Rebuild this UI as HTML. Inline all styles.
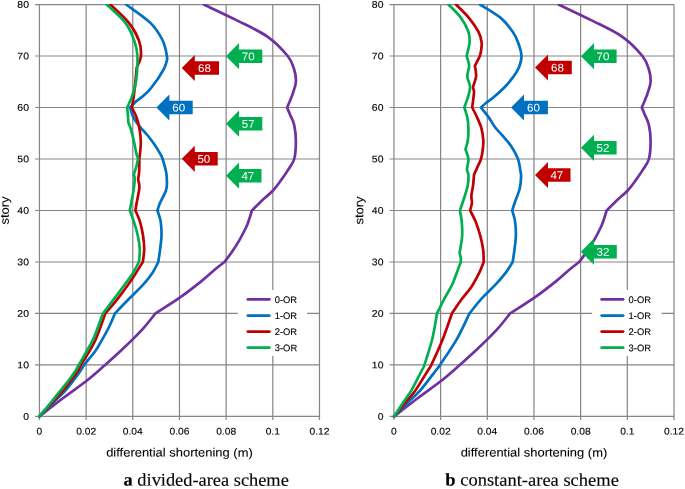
<!DOCTYPE html>
<html lang="en"><head><meta charset="utf-8"><title>Differential shortening</title>
<style>html,body{margin:0;padding:0;background:#fff}svg{display:block;will-change:transform}text{stroke:#000;stroke-width:.12px}text.w{stroke:none}text.t{stroke-width:.08px}text.s{stroke-width:.12px}</style></head>
<body>
<svg width="685" height="489" viewBox="0 0 685 489" font-family='"Liberation Sans", sans-serif' fill="#000">
<rect width="685" height="489" fill="#fff"/>
<path d="M35.05 416.45H319.48M35.05 364.96H319.48M35.05 313.47H319.48M35.05 261.98H319.48M35.05 210.49H319.48M35.05 159H319.48M35.05 107.51H319.48M35.05 56.02H319.48M35.05 4.53H319.48M39.45 4.53V420.05M86.12 4.53V420.05M132.79 4.53V420.05M179.47 4.53V420.05M226.14 4.53V420.05M272.81 4.53V420.05M319.48 4.53V420.05" stroke="#858585" stroke-width="1.2" fill="none"/>
<rect x="237.65" y="290" width="69.4" height="65.8" fill="#fff"/>
<clipPath id="c39"><rect x="36.45" y="3.98" width="286.03" height="415.92"/></clipPath><g clip-path="url(#c39)">
<path d="M203.9 4.53C209.42 7.18 226.37 15.02 237 20.4C247.63 25.78 259.25 30.86 267.7 36.8C276.15 42.74 283.28 50.57 287.7 56.02C292.12 61.47 292.83 65.22 294.2 69.5C295.57 73.78 296.07 77.9 295.9 81.7C295.73 85.5 294.17 89.18 293.2 92.3C292.23 95.42 291.12 97.87 290.1 100.4C289.08 102.94 287.6 106.32 287.1 107.51C287.6 108.71 288.92 111.78 290.1 114.7C291.28 117.62 293.23 120.57 294.2 125C295.17 129.43 295.9 135.63 295.9 141.3C295.9 146.97 295.5 154.23 294.2 159C292.9 163.77 290.32 166.33 288.1 169.9C285.88 173.47 283.45 176.93 280.9 180.4C278.35 183.87 276.03 187.28 272.8 190.7C269.57 194.12 264.98 197.6 261.5 200.9C258.02 204.2 253.5 208.89 251.9 210.49C251.48 211.84 250.3 215.93 249.4 218.6C248.5 221.27 248.17 222.92 246.5 226.5C244.83 230.08 241.78 235.93 239.4 240.1C237.02 244.27 234.68 247.85 232.2 251.5C229.72 255.15 225.78 260.23 224.5 261.98C222.8 263.32 218.13 266.81 214.3 270C210.47 273.19 207.2 276.53 201.5 281.1C195.8 285.67 187.78 292 180.1 297.4C172.42 302.79 159.52 310.79 155.4 313.47C153.45 315.88 147.5 323.58 143.7 327.9C139.9 332.22 136.42 335.58 132.6 339.4C128.78 343.22 125.38 346.54 120.8 350.8C116.22 355.06 110.63 360.09 105.1 364.96C99.57 369.83 94.47 374.58 87.6 380C80.73 385.42 71.95 391.43 63.9 397.5C55.85 403.57 43.4 413.29 39.3 416.45" stroke="#7030A0" stroke-width="2.7" fill="none" stroke-linecap="round" stroke-linejoin="round"/>
<path d="M126.1 4.53C130.15 7.59 144.3 16.91 150.4 22.9C156.5 28.89 159.95 34.98 162.7 40.5C165.45 46.02 166.23 52.59 166.9 56.02C167.57 59.45 167.05 59.27 166.7 61.1C166.35 62.93 165.55 65.22 164.8 67C164.05 68.78 163.23 70.02 162.2 71.8C161.17 73.58 159.98 75.63 158.6 77.7C157.22 79.77 155.38 82.22 153.9 84.2C152.42 86.18 151.08 88.02 149.7 89.6C148.32 91.18 147.08 92.32 145.6 93.7C144.12 95.08 142.38 96.62 140.8 97.9C139.22 99.18 137.47 100.23 136.1 101.4C134.73 102.57 133.6 103.88 132.6 104.9C131.6 105.92 130.52 107.07 130.1 107.51C130.65 109.14 131.72 114.03 133.4 117.3C135.08 120.56 137.95 124.23 140.2 127.1C142.45 129.97 144.55 131.63 146.9 134.5C149.25 137.37 152.05 141.03 154.3 144.3C156.55 147.57 159.02 151.65 160.4 154.1C161.78 156.55 161.65 156.03 162.6 159C163.55 161.97 165.38 168.28 166.1 171.9C166.82 175.52 166.9 177.68 166.9 180.7C166.9 183.72 167.23 186.32 166.1 190C164.97 193.68 161.55 199.39 160.1 202.8C158.65 206.22 157.85 209.21 157.4 210.49C157.93 212.26 159.92 216.98 160.6 221.1C161.28 225.22 161.58 230.5 161.5 235.2C161.42 239.9 160.63 244.84 160.1 249.3C159.57 253.76 158.6 259.87 158.3 261.98C157.32 263.8 155 269.03 152.4 272.9C149.8 276.77 146.67 280.8 142.7 285.2C138.73 289.6 133.23 294.59 128.6 299.3C123.97 304.01 117.18 311.11 114.9 313.47C113.97 315.64 111.67 321.71 109.3 326.5C106.93 331.29 103.08 338.03 100.7 342.2C98.32 346.37 97.77 347.71 95 351.5C92.23 355.29 86.43 361.88 84.1 364.96C81.77 368.04 82.72 367.49 81 370C79.28 372.51 76.33 376.67 73.8 380C71.27 383.33 69.13 386.33 65.8 390C62.47 393.67 58.22 397.59 53.8 402C49.38 406.41 41.72 414.04 39.3 416.45" stroke="#0070C0" stroke-width="2.7" fill="none" stroke-linecap="round" stroke-linejoin="round"/>
<path d="M110.3 4.53C113.4 7.59 124.13 16.91 128.9 22.9C133.67 28.89 136.9 34.98 138.9 40.5C140.9 46.02 141.27 51.5 140.9 56.02C140.53 60.54 137.4 65.67 136.7 67.6C136.48 69.95 135.9 76.87 135.4 81.7C134.9 86.53 134.28 92.3 133.7 96.6C133.12 100.9 132.2 105.69 131.9 107.51C132.67 109.14 135.22 113.62 136.5 117.3C137.78 120.98 138.88 125.52 139.6 129.6C140.32 133.68 140.7 138.12 140.8 141.8C140.9 145.48 140.45 148.83 140.2 151.7C139.95 154.57 139.45 157.78 139.3 159C139.3 160.42 139.37 164.92 139.3 167.5C139.23 170.08 139.08 172.53 138.9 174.5C138.72 176.47 138.13 177.55 138.2 179.3C138.27 181.05 139.15 183.22 139.3 185C139.45 186.78 139.53 187.03 139.1 190C138.67 192.97 137.32 199.39 136.7 202.8C136.08 206.22 135.62 209.21 135.4 210.49C136.13 212.26 138.53 216.98 139.8 221.1C141.07 225.22 142.27 230.5 143 235.2C143.73 239.9 144.23 244.84 144.2 249.3C144.17 253.76 143.03 259.87 142.8 261.98C141.67 263.8 138.52 269.03 136 272.9C133.48 276.77 130.83 280.8 127.7 285.2C124.57 289.6 120.93 294.59 117.2 299.3C113.47 304.01 107.28 311.11 105.3 313.47C103.58 318.03 99.05 332.22 95 340.8C90.95 349.38 83.75 360.09 81 364.96C78.25 369.83 80.12 367.49 78.5 370C76.88 372.51 73.78 376.67 71.3 380C68.82 383.33 66.72 386.33 63.6 390C60.48 393.67 56.65 397.59 52.6 402C48.55 406.41 41.52 414.04 39.3 416.45" stroke="#C00000" stroke-width="2.7" fill="none" stroke-linecap="round" stroke-linejoin="round"/>
<path d="M106.7 4.53C109.82 7.59 120.82 16.91 125.4 22.9C129.98 28.89 132.2 34.98 134.2 40.5C136.2 46.02 137.1 49.15 137.4 56.02C137.7 62.89 136.92 74.94 136 81.7C135.08 88.46 133.37 92.3 131.9 96.6C130.43 100.9 127.98 105.69 127.2 107.51C127.32 108.72 127.72 112.35 127.9 114.8C128.08 117.25 128.23 120.97 128.3 122.2C128.75 123.43 130.05 126.33 131 129.6C131.95 132.87 133.08 137.72 134 141.8C134.92 145.88 135.85 151.23 136.5 154.1C137.15 156.97 137.93 156.92 137.9 159C137.87 161.08 136.98 164.03 136.3 166.6C135.62 169.17 134.22 173.1 133.8 174.4C133.95 175.15 134.73 176.3 134.7 178.9C134.67 181.5 134.42 184.74 133.6 190C132.78 195.26 130.43 207.08 129.8 210.49C130.45 212.26 132.38 216.98 133.7 221.1C135.02 225.22 136.68 230.5 137.7 235.2C138.72 239.9 139.6 244.84 139.8 249.3C140 253.76 139.05 259.87 138.9 261.98C137.92 263.8 135.45 269.03 133 272.9C130.55 276.77 127.42 280.8 124.2 285.2C120.98 289.6 117.25 294.59 113.7 299.3C110.15 304.01 104.7 311.11 102.9 313.47C101.58 317.06 97.12 329.75 95 335C92.88 340.25 92.9 340.01 90.2 345C87.5 349.99 81.17 360.79 78.8 364.96C76.43 369.13 77.63 367.49 76 370C74.37 372.51 71.5 376.67 69 380C66.5 383.33 63.95 386.33 61 390C58.05 393.67 54.92 397.59 51.3 402C47.68 406.41 41.3 414.04 39.3 416.45" stroke="#00B050" stroke-width="2.7" fill="none" stroke-linecap="round" stroke-linejoin="round"/>
</g>
<path d="M247.85 299.45H269.35" stroke="#7030A0" stroke-width="2.8" stroke-linecap="round"/>
<text transform="rotate(0.04 274.75 302.9)" x="274.75" y="302.9" font-size="9.5" textLength="22.4" lengthAdjust="spacingAndGlyphs">0-OR</text>
<path d="M247.85 315.53H269.35" stroke="#0070C0" stroke-width="2.8" stroke-linecap="round"/>
<text transform="rotate(0.04 274.75 318.98)" x="274.75" y="318.98" font-size="9.5" textLength="22.4" lengthAdjust="spacingAndGlyphs">1-OR</text>
<path d="M247.85 331.61H269.35" stroke="#C00000" stroke-width="2.8" stroke-linecap="round"/>
<text transform="rotate(0.04 274.75 335.06)" x="274.75" y="335.06" font-size="9.5" textLength="22.4" lengthAdjust="spacingAndGlyphs">2-OR</text>
<path d="M247.85 347.69H269.35" stroke="#00B050" stroke-width="2.8" stroke-linecap="round"/>
<text transform="rotate(0.04 274.75 351.14)" x="274.75" y="351.14" font-size="9.5" textLength="22.4" lengthAdjust="spacingAndGlyphs">3-OR</text>
<polygon points="226,56.2 239,43.1 239,49.45 262.3,49.45 262.3,62.95 239,62.95 239,69.3" fill="#00B050"/><text transform="rotate(0.04 248.25 60.2)" x="248.25" y="60.2" font-size="11.2" text-anchor="middle" textLength="12.9" lengthAdjust="spacingAndGlyphs" class="w" fill="#fff">70</text>
<polygon points="181.8,68 194.8,54.9 194.8,61.25 219,61.25 219,74.75 194.8,74.75 194.8,81.1" fill="#C00000"/><text transform="rotate(0.04 204.5 72)" x="204.5" y="72" font-size="11.2" text-anchor="middle" textLength="12.9" lengthAdjust="spacingAndGlyphs" class="w" fill="#fff">68</text>
<polygon points="156.4,107.5 169.4,94.4 169.4,100.75 192.7,100.75 192.7,114.25 169.4,114.25 169.4,120.6" fill="#0070C0"/><text transform="rotate(0.04 178.65 111.5)" x="178.65" y="111.5" font-size="11.2" text-anchor="middle" textLength="12.9" lengthAdjust="spacingAndGlyphs" class="w" fill="#fff">60</text>
<polygon points="226,123.7 239,110.6 239,116.95 262.3,116.95 262.3,130.45 239,130.45 239,136.8" fill="#00B050"/><text transform="rotate(0.04 248.25 127.7)" x="248.25" y="127.7" font-size="11.2" text-anchor="middle" textLength="12.9" lengthAdjust="spacingAndGlyphs" class="w" fill="#fff">57</text>
<polygon points="181.8,158.8 194.8,145.7 194.8,152.05 217.7,152.05 217.7,165.55 194.8,165.55 194.8,171.9" fill="#C00000"/><text transform="rotate(0.04 203.85 162.8)" x="203.85" y="162.8" font-size="11.2" text-anchor="middle" textLength="12.9" lengthAdjust="spacingAndGlyphs" class="w" fill="#fff">50</text>
<polygon points="226,175.7 239,162.6 239,168.95 261.5,168.95 261.5,182.45 239,182.45 239,188.8" fill="#00B050"/><text transform="rotate(0.04 247.85 179.7)" x="247.85" y="179.7" font-size="11.2" text-anchor="middle" textLength="12.9" lengthAdjust="spacingAndGlyphs" class="w" fill="#fff">47</text>
<text transform="rotate(0.04 28.95 419.75)" x="28.95" y="419.75" font-size="9.5" text-anchor="end" textLength="5.8" lengthAdjust="spacingAndGlyphs">0</text>
<text transform="rotate(0.04 28.95 368.26)" x="28.95" y="368.26" font-size="9.5" text-anchor="end" textLength="11.6" lengthAdjust="spacingAndGlyphs">10</text>
<text transform="rotate(0.04 28.95 316.77)" x="28.95" y="316.77" font-size="9.5" text-anchor="end" textLength="11.6" lengthAdjust="spacingAndGlyphs">20</text>
<text transform="rotate(0.04 28.95 265.28)" x="28.95" y="265.28" font-size="9.5" text-anchor="end" textLength="11.6" lengthAdjust="spacingAndGlyphs">30</text>
<text transform="rotate(0.04 28.95 213.79)" x="28.95" y="213.79" font-size="9.5" text-anchor="end" textLength="11.6" lengthAdjust="spacingAndGlyphs">40</text>
<text transform="rotate(0.04 28.95 162.3)" x="28.95" y="162.3" font-size="9.5" text-anchor="end" textLength="11.6" lengthAdjust="spacingAndGlyphs">50</text>
<text transform="rotate(0.04 28.95 110.81)" x="28.95" y="110.81" font-size="9.5" text-anchor="end" textLength="11.6" lengthAdjust="spacingAndGlyphs">60</text>
<text transform="rotate(0.04 28.95 59.32)" x="28.95" y="59.32" font-size="9.5" text-anchor="end" textLength="11.6" lengthAdjust="spacingAndGlyphs">70</text>
<text transform="rotate(0.04 28.95 7.83)" x="28.95" y="7.83" font-size="9.5" text-anchor="end" textLength="11.6" lengthAdjust="spacingAndGlyphs">80</text>
<text transform="rotate(0.04 39.45 434.55)" x="39.45" y="434.55" font-size="9.5" text-anchor="middle" textLength="5.7" lengthAdjust="spacingAndGlyphs">0</text>
<text transform="rotate(0.04 86.12 434.55)" x="86.12" y="434.55" font-size="9.5" text-anchor="middle" textLength="19.95" lengthAdjust="spacingAndGlyphs">0.02</text>
<text transform="rotate(0.04 132.79 434.55)" x="132.79" y="434.55" font-size="9.5" text-anchor="middle" textLength="19.95" lengthAdjust="spacingAndGlyphs">0.04</text>
<text transform="rotate(0.04 179.47 434.55)" x="179.47" y="434.55" font-size="9.5" text-anchor="middle" textLength="19.95" lengthAdjust="spacingAndGlyphs">0.06</text>
<text transform="rotate(0.04 226.14 434.55)" x="226.14" y="434.55" font-size="9.5" text-anchor="middle" textLength="19.95" lengthAdjust="spacingAndGlyphs">0.08</text>
<text transform="rotate(0.04 272.81 434.55)" x="272.81" y="434.55" font-size="9.5" text-anchor="middle" textLength="14.25" lengthAdjust="spacingAndGlyphs">0.1</text>
<text transform="rotate(0.04 319.48 434.55)" x="319.48" y="434.55" font-size="9.5" text-anchor="middle" textLength="19.95" lengthAdjust="spacingAndGlyphs">0.12</text>
<text transform="rotate(0.04 179.47 456.6)" x="179.47" y="456.6" font-size="12" text-anchor="middle" textLength="146.6" lengthAdjust="spacingAndGlyphs" class="t">differential shortening (m)</text>
<text transform="rotate(-89.96 8.85 210.5)" x="8.85" y="210.5" font-size="12" text-anchor="middle" textLength="28.2" lengthAdjust="spacingAndGlyphs" class="t">story</text>
<path d="M389.55 416.45H673.98M389.55 364.96H673.98M389.55 313.47H673.98M389.55 261.98H673.98M389.55 210.49H673.98M389.55 159H673.98M389.55 107.51H673.98M389.55 56.02H673.98M389.55 4.53H673.98M393.95 4.53V420.05M440.62 4.53V420.05M487.29 4.53V420.05M533.97 4.53V420.05M580.64 4.53V420.05M627.31 4.53V420.05M673.98 4.53V420.05" stroke="#858585" stroke-width="1.2" fill="none"/>
<rect x="592.15" y="290" width="69.4" height="65.8" fill="#fff"/>
<clipPath id="c393"><rect x="390.95" y="3.98" width="286.03" height="415.92"/></clipPath><g clip-path="url(#c393)">
<path d="M558.6 4.53C564.12 7.18 581.07 15.02 591.7 20.4C602.33 25.78 613.95 30.86 622.4 36.8C630.85 42.74 637.98 50.57 642.4 56.02C646.82 61.47 647.53 65.22 648.9 69.5C650.27 73.78 650.77 77.9 650.6 81.7C650.43 85.5 648.87 89.18 647.9 92.3C646.93 95.42 645.82 97.87 644.8 100.4C643.78 102.94 642.3 106.32 641.8 107.51C642.3 108.71 643.62 111.78 644.8 114.7C645.98 117.62 647.93 120.57 648.9 125C649.87 129.43 650.6 135.63 650.6 141.3C650.6 146.97 650.2 154.23 648.9 159C647.6 163.77 645.02 166.33 642.8 169.9C640.58 173.47 638.15 176.93 635.6 180.4C633.05 183.87 630.73 187.28 627.5 190.7C624.27 194.12 619.68 197.6 616.2 200.9C612.72 204.2 608.2 208.89 606.6 210.49C606.18 211.84 605 215.93 604.1 218.6C603.2 221.27 602.87 222.92 601.2 226.5C599.53 230.08 596.48 235.93 594.1 240.1C591.72 244.27 589.38 247.85 586.9 251.5C584.42 255.15 580.48 260.23 579.2 261.98C577.5 263.32 572.83 266.81 569 270C565.17 273.19 561.9 276.53 556.2 281.1C550.5 285.67 542.48 292 534.8 297.4C527.12 302.79 514.22 310.79 510.1 313.47C508.15 315.88 502.2 323.58 498.4 327.9C494.6 332.22 491.12 335.58 487.3 339.4C483.48 343.22 480.08 346.54 475.5 350.8C470.92 355.06 465.33 360.09 459.8 364.96C454.27 369.83 449.17 374.58 442.3 380C435.43 385.42 426.65 391.43 418.6 397.5C410.55 403.57 398.1 413.29 394 416.45" stroke="#7030A0" stroke-width="2.7" fill="none" stroke-linecap="round" stroke-linejoin="round"/>
<path d="M480.1 4.53C483.48 6.71 494.97 13.07 500.4 17.6C505.83 22.13 509.77 27.6 512.7 31.7C515.63 35.8 516.53 38.15 518 42.2C519.47 46.25 521.35 51.79 521.5 56.02C521.65 60.25 520.22 64.2 518.9 67.6C517.58 71 515.95 73.17 513.6 76.4C511.25 79.63 508.18 83.48 504.8 87C501.42 90.52 496.38 94.87 493.3 97.5C490.22 100.13 488.35 101.13 486.3 102.8C484.25 104.47 481.88 106.72 481 107.51C482.32 109.19 486.55 114.3 488.9 117.6C491.25 120.9 492.9 124.37 495.1 127.3C497.3 130.23 499.47 132.12 502.1 135.2C504.73 138.28 508.25 141.83 510.9 145.8C513.55 149.77 516.43 154.9 518 159C519.57 163.1 519.78 167.5 520.3 170.4C520.82 173.3 521.2 173.35 521.1 176.4C521 179.45 520.67 184.6 519.7 188.7C518.73 192.8 516.55 197.37 515.3 201C514.05 204.63 512.72 208.91 512.2 210.49C512.67 212.26 514.38 216.98 515 221.1C515.62 225.22 515.98 230.5 515.9 235.2C515.82 239.9 515.03 244.84 514.5 249.3C513.97 253.76 513 259.87 512.7 261.98C511.52 263.8 508.55 269.03 505.6 272.9C502.65 276.77 499.12 280.8 495 285.2C490.88 289.6 485.15 294.59 480.9 299.3C476.65 304.01 471.4 311.11 469.5 313.47C467.37 317.78 461.62 330.72 456.7 339.3C451.78 347.88 443.42 359.84 440 364.96C436.58 370.08 439.48 365.76 436.2 370C432.92 374.24 424.97 385.07 420.3 390.4C415.63 395.73 412.57 397.66 408.2 402C403.83 406.34 396.45 414.04 394.1 416.45" stroke="#0070C0" stroke-width="2.7" fill="none" stroke-linecap="round" stroke-linejoin="round"/>
<path d="M456 4.53C458.12 6.71 464.97 13.07 468.7 17.6C472.43 22.13 476.25 27.6 478.4 31.7C480.55 35.8 481.17 38.98 481.6 42.2C482.03 45.42 481.3 48.7 481 51C480.7 53.3 480.82 53.55 479.8 56.02C478.78 58.49 475.72 64.17 474.9 65.8C475.1 67.57 476.4 72.87 476.1 76.4C475.8 79.93 473.45 84.37 473.1 87C472.75 89.63 474.15 88.78 474 92.2C473.85 95.62 472.5 104.96 472.2 107.51C473.03 109.19 475.67 114.15 477.2 117.6C478.73 121.05 480.38 124.38 481.4 128.2C482.42 132.02 483.07 136.98 483.3 140.5C483.53 144.02 483.18 146.22 482.8 149.3C482.42 152.38 481.88 156.07 481 159C480.12 161.93 478.67 164.27 477.5 166.9C476.33 169.53 474.58 173.48 474 174.8C473.85 176.53 473.53 181.7 473.1 185.2C472.67 188.7 471.6 192.87 471.4 195.8C471.2 198.73 472.12 200.35 471.9 202.8C471.68 205.25 470.4 209.21 470.1 210.49C470.98 212.26 473.73 216.98 475.4 221.1C477.07 225.22 478.82 230.5 480.1 235.2C481.38 239.9 482.5 244.84 483.1 249.3C483.7 253.76 483.6 259.87 483.7 261.98C482.95 263.8 481.27 268.73 479.2 272.9C477.13 277.07 474.23 282.6 471.3 287C468.37 291.4 464.83 294.89 461.6 299.3C458.37 303.71 453.52 311.11 451.9 313.47C450.37 317.78 446.13 330.72 442.7 339.3C439.27 347.88 433.72 359.84 431.3 364.96C428.88 370.08 430.85 365.76 428.2 370C425.55 374.24 419.13 385.07 415.4 390.4C411.67 395.73 409.35 397.66 405.8 402C402.25 406.34 396.05 414.04 394.1 416.45" stroke="#C00000" stroke-width="2.7" fill="none" stroke-linecap="round" stroke-linejoin="round"/>
<path d="M448.5 4.53C450.55 6.71 457.48 13.07 460.8 17.6C464.12 22.13 466.93 27.6 468.4 31.7C469.87 35.8 469.7 38.98 469.6 42.2C469.5 45.42 468.3 48.7 467.8 51C467.3 53.3 466.8 55.18 466.6 56.02C467.02 57.65 468.98 62.4 469.1 65.8C469.22 69.2 467.13 72.87 467.3 76.4C467.47 79.93 470.02 83.48 470.1 87C470.18 90.52 468.77 94.08 467.8 97.5C466.83 100.92 464.88 105.84 464.3 107.51C464.8 109.19 466.62 114.15 467.3 117.6C467.98 121.05 468.32 124.38 468.4 128.2C468.48 132.02 468.28 136.98 467.8 140.5C467.32 144.02 465.88 147.83 465.5 149.3C465.98 150.92 468.15 155.65 468.4 159C468.65 162.35 467 166.8 467 169.4C467 172 468.27 171.97 468.4 174.6C468.53 177.23 468.48 181.38 467.8 185.2C467.12 189.02 465.62 193.28 464.3 197.5C462.98 201.72 460.63 208.33 459.9 210.49C460.2 212.26 461.32 216.98 461.7 221.1C462.08 225.22 462.35 231.08 462.2 235.2C462.05 239.32 461.23 242.87 460.8 245.8C460.37 248.73 459.8 251.63 459.6 252.8C459.8 253.68 460.6 256.57 460.8 258.1C461 259.63 460.8 261.33 460.8 261.98C460.12 263.8 458.18 269.03 456.7 272.9C455.22 276.77 454.02 280.8 451.9 285.2C449.78 289.6 446.48 294.59 444 299.3C441.52 304.01 438.17 311.11 437 313.47C436.2 317.78 434.3 330.72 432.2 339.3C430.1 347.88 426.1 359.84 424.4 364.96C422.7 370.08 424.17 365.76 422 370C419.83 374.24 414.48 385.07 411.4 390.4C408.32 395.73 406.38 397.66 403.5 402C400.62 406.34 395.67 414.04 394.1 416.45" stroke="#00B050" stroke-width="2.7" fill="none" stroke-linecap="round" stroke-linejoin="round"/>
</g>
<path d="M601.65 299.45H623.15" stroke="#7030A0" stroke-width="2.8" stroke-linecap="round"/>
<text transform="rotate(0.04 628.55 302.9)" x="628.55" y="302.9" font-size="9.5" textLength="22.4" lengthAdjust="spacingAndGlyphs">0-OR</text>
<path d="M601.65 315.53H623.15" stroke="#0070C0" stroke-width="2.8" stroke-linecap="round"/>
<text transform="rotate(0.04 628.55 318.98)" x="628.55" y="318.98" font-size="9.5" textLength="22.4" lengthAdjust="spacingAndGlyphs">1-OR</text>
<path d="M601.65 331.61H623.15" stroke="#C00000" stroke-width="2.8" stroke-linecap="round"/>
<text transform="rotate(0.04 628.55 335.06)" x="628.55" y="335.06" font-size="9.5" textLength="22.4" lengthAdjust="spacingAndGlyphs">2-OR</text>
<path d="M601.65 347.69H623.15" stroke="#00B050" stroke-width="2.8" stroke-linecap="round"/>
<text transform="rotate(0.04 628.55 351.14)" x="628.55" y="351.14" font-size="9.5" textLength="22.4" lengthAdjust="spacingAndGlyphs">3-OR</text>
<polygon points="581,56.2 594,43.1 594,49.45 616.6,49.45 616.6,62.95 594,62.95 594,69.3" fill="#00B050"/><text transform="rotate(0.04 602.9 60.2)" x="602.9" y="60.2" font-size="11.2" text-anchor="middle" textLength="12.9" lengthAdjust="spacingAndGlyphs" class="w" fill="#fff">70</text>
<polygon points="535,67.5 548,54.4 548,60.75 571.8,60.75 571.8,74.25 548,74.25 548,80.6" fill="#C00000"/><text transform="rotate(0.04 557.5 71.5)" x="557.5" y="71.5" font-size="11.2" text-anchor="middle" textLength="12.9" lengthAdjust="spacingAndGlyphs" class="w" fill="#fff">68</text>
<polygon points="511,107.5 524,94.4 524,100.75 547.9,100.75 547.9,114.25 524,114.25 524,120.6" fill="#0070C0"/><text transform="rotate(0.04 533.55 111.5)" x="533.55" y="111.5" font-size="11.2" text-anchor="middle" textLength="12.9" lengthAdjust="spacingAndGlyphs" class="w" fill="#fff">60</text>
<polygon points="581,147.8 594,134.7 594,141.05 616.6,141.05 616.6,154.55 594,154.55 594,160.9" fill="#00B050"/><text transform="rotate(0.04 602.9 151.8)" x="602.9" y="151.8" font-size="11.2" text-anchor="middle" textLength="12.9" lengthAdjust="spacingAndGlyphs" class="w" fill="#fff">52</text>
<polygon points="535,175 548,161.9 548,168.25 570.5,168.25 570.5,181.75 548,181.75 548,188.1" fill="#C00000"/><text transform="rotate(0.04 556.85 179)" x="556.85" y="179" font-size="11.2" text-anchor="middle" textLength="12.9" lengthAdjust="spacingAndGlyphs" class="w" fill="#fff">47</text>
<polygon points="580.9,251.7 593.9,238.6 593.9,244.95 616.8,244.95 616.8,258.45 593.9,258.45 593.9,264.8" fill="#00B050"/><text transform="rotate(0.04 602.95 255.7)" x="602.95" y="255.7" font-size="11.2" text-anchor="middle" textLength="12.9" lengthAdjust="spacingAndGlyphs" class="w" fill="#fff">32</text>
<text transform="rotate(0.04 383.45 419.75)" x="383.45" y="419.75" font-size="9.5" text-anchor="end" textLength="5.8" lengthAdjust="spacingAndGlyphs">0</text>
<text transform="rotate(0.04 383.45 368.26)" x="383.45" y="368.26" font-size="9.5" text-anchor="end" textLength="11.6" lengthAdjust="spacingAndGlyphs">10</text>
<text transform="rotate(0.04 383.45 316.77)" x="383.45" y="316.77" font-size="9.5" text-anchor="end" textLength="11.6" lengthAdjust="spacingAndGlyphs">20</text>
<text transform="rotate(0.04 383.45 265.28)" x="383.45" y="265.28" font-size="9.5" text-anchor="end" textLength="11.6" lengthAdjust="spacingAndGlyphs">30</text>
<text transform="rotate(0.04 383.45 213.79)" x="383.45" y="213.79" font-size="9.5" text-anchor="end" textLength="11.6" lengthAdjust="spacingAndGlyphs">40</text>
<text transform="rotate(0.04 383.45 162.3)" x="383.45" y="162.3" font-size="9.5" text-anchor="end" textLength="11.6" lengthAdjust="spacingAndGlyphs">50</text>
<text transform="rotate(0.04 383.45 110.81)" x="383.45" y="110.81" font-size="9.5" text-anchor="end" textLength="11.6" lengthAdjust="spacingAndGlyphs">60</text>
<text transform="rotate(0.04 383.45 59.32)" x="383.45" y="59.32" font-size="9.5" text-anchor="end" textLength="11.6" lengthAdjust="spacingAndGlyphs">70</text>
<text transform="rotate(0.04 383.45 7.83)" x="383.45" y="7.83" font-size="9.5" text-anchor="end" textLength="11.6" lengthAdjust="spacingAndGlyphs">80</text>
<text transform="rotate(0.04 393.95 434.55)" x="393.95" y="434.55" font-size="9.5" text-anchor="middle" textLength="5.7" lengthAdjust="spacingAndGlyphs">0</text>
<text transform="rotate(0.04 440.62 434.55)" x="440.62" y="434.55" font-size="9.5" text-anchor="middle" textLength="19.95" lengthAdjust="spacingAndGlyphs">0.02</text>
<text transform="rotate(0.04 487.29 434.55)" x="487.29" y="434.55" font-size="9.5" text-anchor="middle" textLength="19.95" lengthAdjust="spacingAndGlyphs">0.04</text>
<text transform="rotate(0.04 533.97 434.55)" x="533.97" y="434.55" font-size="9.5" text-anchor="middle" textLength="19.95" lengthAdjust="spacingAndGlyphs">0.06</text>
<text transform="rotate(0.04 580.64 434.55)" x="580.64" y="434.55" font-size="9.5" text-anchor="middle" textLength="19.95" lengthAdjust="spacingAndGlyphs">0.08</text>
<text transform="rotate(0.04 627.31 434.55)" x="627.31" y="434.55" font-size="9.5" text-anchor="middle" textLength="14.25" lengthAdjust="spacingAndGlyphs">0.1</text>
<text transform="rotate(0.04 673.98 434.55)" x="673.98" y="434.55" font-size="9.5" text-anchor="middle" textLength="19.95" lengthAdjust="spacingAndGlyphs">0.12</text>
<text transform="rotate(0.04 533.97 456.6)" x="533.97" y="456.6" font-size="12" text-anchor="middle" textLength="146.6" lengthAdjust="spacingAndGlyphs" class="t">differential shortening (m)</text>
<text transform="rotate(-89.96 363.35 210.5)" x="363.35" y="210.5" font-size="12" text-anchor="middle" textLength="28.2" lengthAdjust="spacingAndGlyphs" class="t">story</text>
<text transform="rotate(0.04 123.6 485.6)" x="123.6" y="485.6" font-size="17.8" textLength="165.2" lengthAdjust="spacingAndGlyphs" class="s" font-family='"Liberation Serif", serif'><tspan font-weight="bold">a</tspan> divided-area scheme</text>
<text transform="rotate(0.04 445.3 485.6)" x="445.3" y="485.6" font-size="17.8" textLength="173.6" lengthAdjust="spacingAndGlyphs" class="s" font-family='"Liberation Serif", serif'><tspan font-weight="bold">b</tspan> constant-area scheme</text>
</svg>
</body></html>
